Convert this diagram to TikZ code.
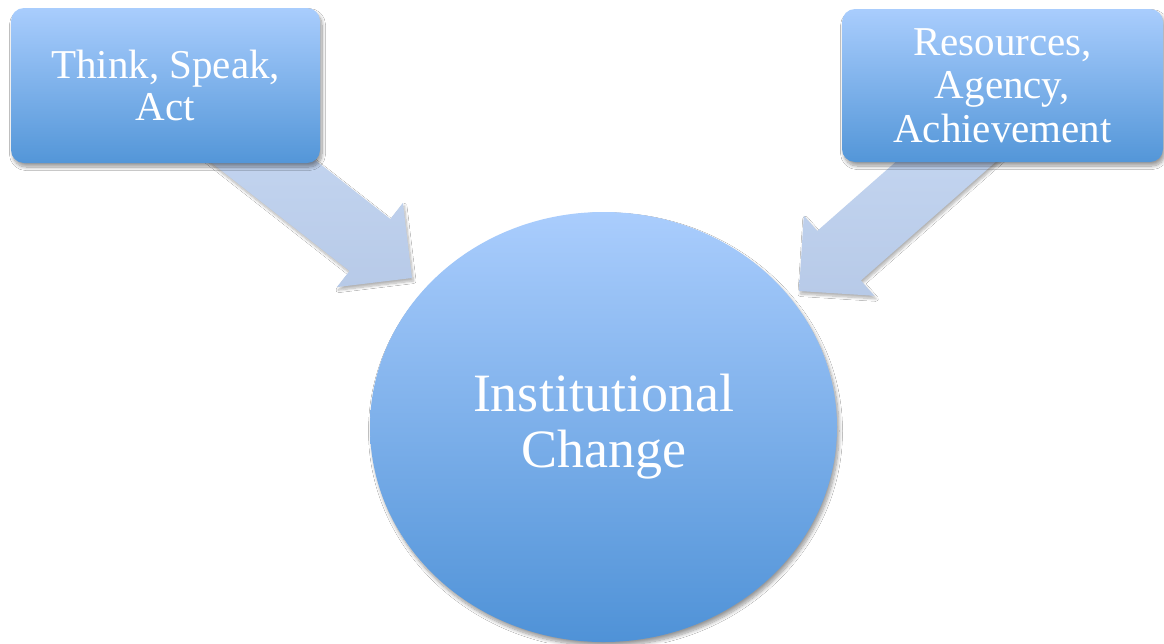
\documentclass[tikz,border=0pt]{standalone}
\usepackage{fontspec}
\setmainfont{Liberation Serif}
\usetikzlibrary{shapes.geometric,shadows.blur}

\definecolor{boxtop}{HTML}{A9CDFD}
\definecolor{boxbot}{HTML}{5396D8}
\definecolor{circtop}{HTML}{AACDFD}
\definecolor{circbot}{HTML}{4F92D7}
\definecolor{arrtop}{HTML}{C7D8F2}
\definecolor{arrbot}{HTML}{B7CAE8}

\tikzset{
  softshadow/.style={blur shadow={shadow xshift=2pt, shadow yshift=-4pt,
      shadow blur radius=3.5pt, shadow blur steps=10, shadow opacity=40}},
  idea/.style={rectangle, rounded corners=13pt, inner sep=0pt,
      top color=boxtop, bottom color=boxbot, draw=none,
      text=white, align=center, softshadow},
  hub/.style={ellipse, inner sep=0pt, minimum width=467pt, minimum height=430pt,
      top color=circtop, bottom color=circbot, draw=none,
      text=white, align=center, softshadow,
      font=\fontsize{54}{56}\selectfont},
  blockarrow/.style={top color=arrtop, bottom color=arrbot, draw=none,
      blur shadow={shadow xshift=1.5pt, shadow yshift=-3pt,
      shadow blur radius=2.5pt, shadow blur steps=8, shadow opacity=30}}
}

\begin{document}
\begin{tikzpicture}[x=1pt,y=-1pt]
\useasboundingbox (0,0) rectangle (1164,643);
\fill[white] (0,0) rectangle (1164,643);

% block arrow from the left box towards the hub
\coordinate (la1) at (232.9,95.6);
\coordinate (la2) at (390.3,219.0);
\coordinate (la3) at (402.9,202.9);
\coordinate (latip) at (412,278);
\coordinate (la4) at (336.9,287.1);
\coordinate (la5) at (349.5,271.0);
\coordinate (la6) at (192.1,147.6);
\path[blockarrow] (la1) -- (la2) -- (la3) -- (latip) -- (la4) -- (la5) -- (la6) -- cycle;

% block arrow from the right box towards the hub
\coordinate (ra1) at (967.3,98.9);
\coordinate (ra2) at (817.3,230.9);
\coordinate (ra3) at (803.8,215.6);
\coordinate (ratip) at (799,291);
\coordinate (ra4) at (874.4,295.8);
\coordinate (ra5) at (860.9,280.5);
\coordinate (ra6) at (1010.9,148.5);
\path[blockarrow] (ra1) -- (ra2) -- (ra3) -- (ratip) -- (ra4) -- (ra5) -- (ra6) -- cycle;

% the three shapes
\node[idea, minimum width=309pt, minimum height=155pt,
      font=\fontsize{41}{42}\selectfont] (tsa) at (165.5,85.5)
      {Think, Speak,\\Act};
\node[idea, minimum width=321pt, minimum height=153pt,
      font=\fontsize{41}{43.5}\selectfont] (raa) at (1002.5,85.5)
      {Resources,\\Agency,\\Achievement};
\node[hub] (ic) at (603.5,427) {\raisebox{-3pt}{Institutional}\\\raisebox{-3pt}{Change}};
\end{tikzpicture}
\end{document}
